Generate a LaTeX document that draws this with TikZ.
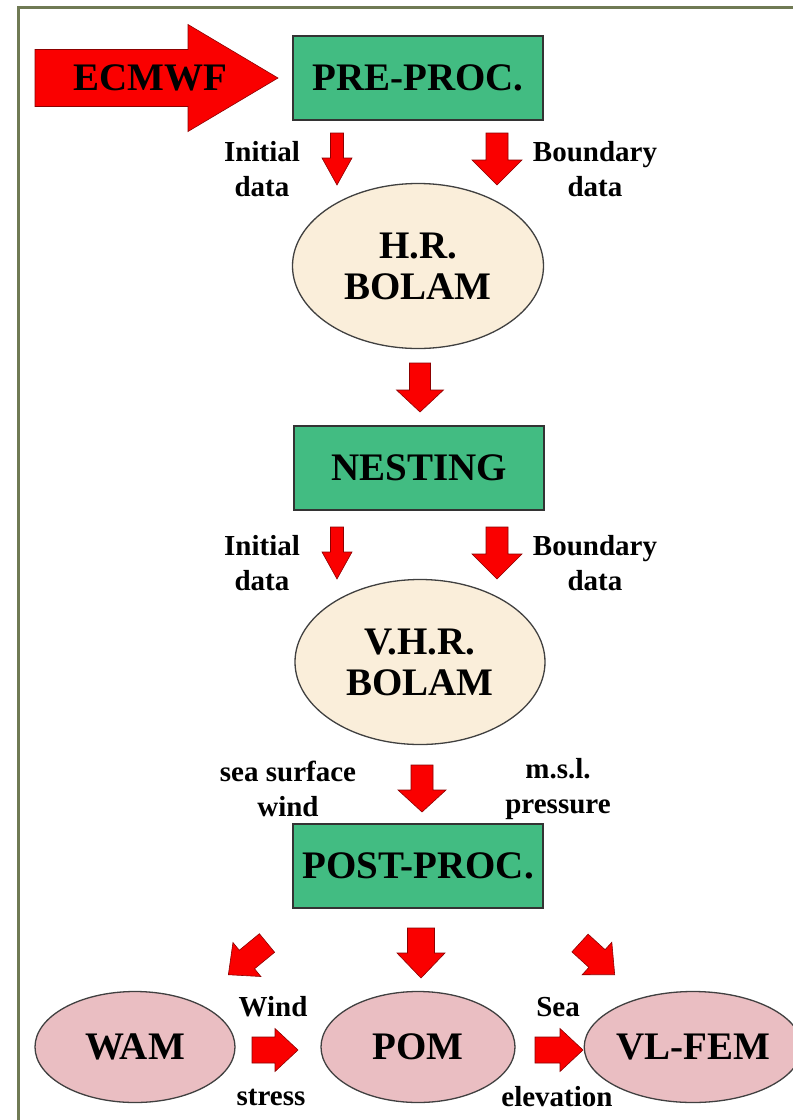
\documentclass[tikz,border=0pt]{standalone}
\usepackage{fontspec}
\setmainfont{Liberation Serif}
\usetikzlibrary{shapes.geometric}
\definecolor{boxgreen}{RGB}{66,188,130}
\definecolor{beige}{RGB}{250,238,218}
\definecolor{pinkish}{RGB}{234,190,194}
\definecolor{frameolive}{RGB}{112,122,84}
\definecolor{arrowred}{RGB}{250,0,0}
\newcommand\bigfont{\fontsize{39}{43}\selectfont\bfseries}
\newcommand\smallfont{\fontsize{29}{35}\selectfont\bfseries}
\tikzset{
  procbox/.style={draw=black!80, line width=1.5pt, fill=boxgreen, minimum width=250pt,
    minimum height=84pt, inner sep=0pt, font=\bigfont},
  modelell/.style={ellipse, draw=black!75, line width=1.3pt, inner sep=0pt,
    font=\bigfont, align=center},
  beigeell/.style={modelell, fill=beige},
  pinkell/.style={modelell, fill=pinkish},
  lbl/.style={font=\smallfont, align=center, inner sep=0pt},
  fatarrow/.style={fill=arrowred, draw=red!55!black, line width=0.6pt, line join=miter}
}
% #1 x, #2 y (tail centre), #3 angle, #4 length, #5 shaft width, #6 head width, #7 head length
\newcommand\blockarrow[7]{%
  \begin{scope}[shift={(#1,#2)},rotate=#3]
    \draw[fatarrow] (0,-#5/2) -- (#4-#7,-#5/2) -- (#4-#7,-#6/2) -- (#4,0)
      -- (#4-#7,#6/2) -- (#4-#7,#5/2) -- (0,#5/2) -- cycle;
  \end{scope}}
\begin{document}
\begin{tikzpicture}[x=1pt,y=-1pt]
\useasboundingbox (0,0) rectangle (793,1120);
\fill[white] (0,0) rectangle (793,1120);
% frame
\draw[frameolive, line width=3pt] (18,1120) coordinate (fbl) -- (18,7) coordinate (ftl) -- (793,7) coordinate (ftr);

% ECMWF input arrow
\blockarrow{35}{78}{0}{243}{57}{107}{90}
\node[font=\bigfont, inner sep=0pt] (ecmwf) at (150,78) {ECMWF};

% boxes
\node[procbox] (pre) at (418,78) {PRE-PROC.};
\node[procbox] (nest) at (419,468) {NESTING};
\node[procbox] (post) at (418,866) {POST-PROC.};

% ellipses
\node[beigeell, minimum width=251pt, minimum height=165pt] (hr) at (418,266) {H.R.\\[-2pt]BOLAM};
\node[beigeell, minimum width=250pt, minimum height=165pt] (vhr) at (420,662) {V.H.R.\\[-2pt]BOLAM};
\node[pinkell, minimum width=200pt, minimum height=111pt] (wam) at (135,1047) {WAM};
\node[pinkell, minimum width=194pt, minimum height=111pt] (pom) at (418,1047) {POM};
\node[pinkell, minimum width=184pt, minimum height=111pt] (vlfem) at (693,1047) {VL-FEM};

% arrows pre-proc -> H.R. BOLAM
\blockarrow{337}{133}{-90}{52}{13}{30}{27}
\blockarrow{497}{133}{-90}{52}{22}{50}{25}
\node[lbl] (init1) at (262,169) {Initial\\data};
\node[lbl] (bnd1) at (595,169) {Boundary\\data};

% H.R. BOLAM -> NESTING
\blockarrow{420}{363}{-90}{49}{21}{47}{22}

% NESTING -> V.H.R. BOLAM
\blockarrow{337}{527}{-90}{52}{13}{30}{27}
\blockarrow{497}{527}{-90}{52}{22}{50}{25}
\node[lbl] (init2) at (262,563) {Initial\\data};
\node[lbl] (bnd2) at (595,563) {Boundary\\data};

% V.H.R. BOLAM -> POST-PROC
\blockarrow{422}{765}{-90}{47}{22}{48}{22}
\node[lbl] (ssw) at (288,789) {sea surface\\wind};
\node[lbl] (msl) at (558,789) {m.s.l.\\pressure};

% POST-PROC -> models
\blockarrow{421}{928}{-90}{50}{27}{48}{25}
\blockarrow{267}{943}{219.4}{50}{24}{44}{24}
\blockarrow{580}{943}{-42.4}{47}{24}{44}{24}

% coupling arrows
\blockarrow{252}{1050}{0}{46}{26}{43}{23}
\blockarrow{535}{1050}{0}{48}{26}{43}{23}
\node[lbl] (wind) at (273,1007) {Wind};
\node[lbl] (stress) at (271,1097) {stress};
\node[lbl] (sea) at (558,1007) {Sea};
\node[lbl] (elev) at (557,1097) {elevation};
\end{tikzpicture}
\end{document}
